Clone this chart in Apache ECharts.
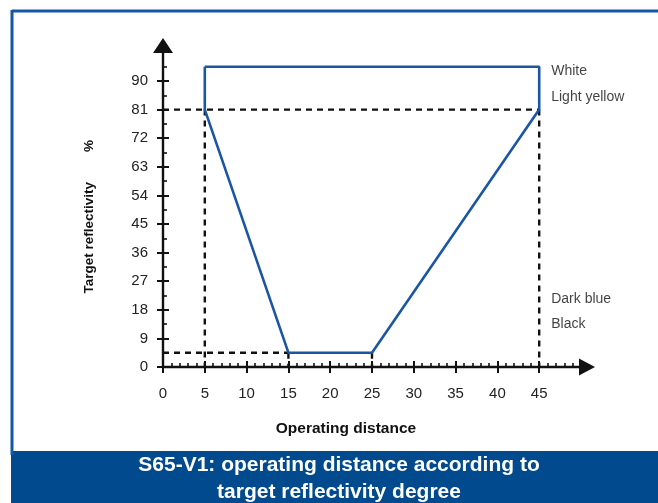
<!DOCTYPE html>
<html>
<head>
<meta charset="utf-8">
<script src="https://cdn.jsdelivr.net/npm/echarts@6/dist/echarts.min.js"></script>
<style>
html,body{margin:0;padding:0;background:#fff;}
#c{width:658px;height:503px;}
</style>
</head>
<body>
<div id="c"></div>
<script>
// ---- data ----
const xTickValues = [0, 5, 10, 15, 20, 25, 30, 35, 40, 45];
const yTickValues = [0, 9, 18, 27, 36, 45, 54, 63, 72, 81, 90];
// operating range envelope (distance, reflectivity %)
const envelopeX = [5, 5, 15, 25, 45, 45, 5];
const envelopeY = [94.5, 81, 4.5, 4.5, 81, 94.5, 94.5];
// dashed guide segments: [x1, y1, x2, y2]
const guideSegments = [
  [0, 81, 45, 81],
  [5, 81, 5, 0],
  [0, 4.5, 15, 4.5],
  [45, 81, 45, 0],
  [15, 4.5, 15, 0],
  [25, 4.5, 25, 0]
];
// colour annotations at right
const annotationNames = ['White', 'Light yellow', 'Dark blue', 'Black'];
const annotationY = [93.0, 85.0, 21.5, 13.6];
const annotationX = 45;

const xAxisName = 'Operating distance';
const yAxisName = 'Target reflectivity        %';
const titleText = 'S65-V1: operating distance according to\ntarget reflectivity degree';

// ---- chart ----
const chart = echarts.init(document.getElementById('c'));
const FONT = 'Liberation Sans, Arial, sans-serif';
const AX = '#111';

const envelopeData = envelopeX.map((x, i) => [x, envelopeY[i]]);

const series = [];
guideSegments.forEach(s => {
  series.push({
    type: 'line', xAxisIndex: 0, yAxisIndex: 0,
    data: [[s[0], s[1]], [s[2], s[3]]],
    symbol: 'none', silent: true, z: 3,
    lineStyle: { color: '#111', width: 2.4, type: [6, 5] }
  });
});
series.push({
  type: 'line', xAxisIndex: 0, yAxisIndex: 0,
  data: envelopeData, symbol: 'none', z: 4,
  lineStyle: { color: '#1b56a3', width: 2.6 }
});
series.push({
  type: 'scatter', xAxisIndex: 0, yAxisIndex: 0,
  symbolSize: 0, z: 5,
  data: annotationNames.map((n, i) => ({ name: n, value: [annotationX, annotationY[i]] })),
  label: {
    show: true, position: 'right', distance: 12,
    formatter: p => p.name,
    color: '#111', fontSize: 14, fontFamily: FONT
  }
});

const option = {
  animation: false,
  backgroundColor: '#fff',
  title: {
    text: titleText,
    left: 339, top: 452,
    textAlign: 'center',
    padding: 0,
    textStyle: { color: '#fff', fontSize: 21, fontWeight: 'bold', fontFamily: FONT, lineHeight: 27 }
  },
  graphic: [
    { type: 'rect', shape: { x: 11, y: 451, width: 660, height: 60 }, style: { fill: '#004a8d' }, z: -10 },
    { type: 'line', shape: { x1: 12, y1: 11, x2: 670, y2: 11 }, style: { stroke: '#1457a3', lineWidth: 3 }, z: -10 },
    { type: 'line', shape: { x1: 12, y1: 10, x2: 12, y2: 455 }, style: { stroke: '#1457a3', lineWidth: 3 }, z: -10 }
  ],
  grid: { left: 163, right: 77, top: 52.4, bottom: 136, containLabel: false },
  xAxis: [
    {
      type: 'value', min: 0, max: 50, interval: 5,
      name: xAxisName, nameLocation: 'middle', nameGap: 54,
      nameTextStyle: { color: '#111', fontSize: 15.5, fontWeight: 'bold', fontFamily: FONT, padding: [0, 52, 0, 0] },
      axisLine: { show: true, onZero: false, lineStyle: { color: AX, width: 2.4 },
        symbol: ['none', 'triangle'], symbolSize: [17, 16], symbolOffset: [0, 6] },
      axisTick: { show: true, inside: false, length: 6, lineStyle: { color: AX, width: 2 }, customValues: xTickValues },
      axisLabel: { show: true, margin: 19, color: '#222', fontSize: 15, fontFamily: FONT, customValues: xTickValues },
      splitLine: { show: false }
    },
    {
      type: 'value', min: 0, max: 50, interval: 5, position: 'bottom',
      axisLine: { show: false },
      axisTick: { show: true, inside: true, length: 6, lineStyle: { color: AX, width: 2 }, customValues: xTickValues },
      minorTick: { show: true, splitNumber: 5, length: 4, lineStyle: { color: AX, width: 1.6 } },
      axisLabel: { show: false },
      splitLine: { show: false }
    }
  ],
  yAxis: [
    {
      type: 'value', min: 0, max: 99, interval: 9,
      name: yAxisName, nameLocation: 'middle', nameGap: 67, nameRotate: 90,
      nameTextStyle: { color: '#111', fontSize: 13.5, fontWeight: 'bold', fontFamily: FONT, padding: [0, 14, 0, 0] },
      axisLine: { show: true, onZero: false, lineStyle: { color: AX, width: 2.4 },
        symbol: ['none', 'triangle'], symbolSize: [20, 15], symbolOffset: [0, 7] },
      axisTick: { show: true, inside: false, length: 6, lineStyle: { color: AX, width: 2 }, customValues: yTickValues },
      axisLabel: { show: true, margin: 15, color: '#222', fontSize: 15, fontFamily: FONT, customValues: yTickValues },
      splitLine: { show: false }
    },
    {
      type: 'value', min: 0, max: 99, interval: 9, position: 'left',
      axisLine: { show: false },
      axisTick: { show: true, inside: true, length: 6, lineStyle: { color: AX, width: 2 }, customValues: yTickValues },
      minorTick: { show: true, splitNumber: 2, length: 4, lineStyle: { color: AX, width: 1.6 } },
      axisLabel: { show: false },
      splitLine: { show: false }
    }
  ],
  series: series
};
chart.setOption(option);
</script>
</body>
</html>
